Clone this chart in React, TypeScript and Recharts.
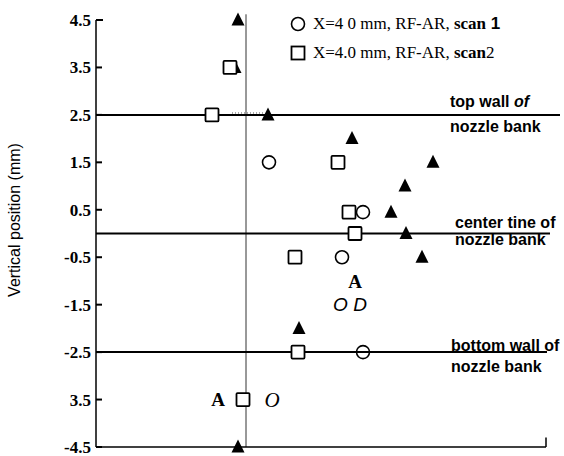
import { ScatterChart, Scatter, XAxis, YAxis, ReferenceLine, Legend } from 'recharts'

// y ticks as printed (the scan dropped the minus on -3.5)
const yTicks = [4.5, 3.5, 2.5, 1.5, 0.5, -0.5, -1.5, -2.5, -3.5, -4.5]
const yTickLabels = ['4.5', '3.5', '2.5', '1.5', '0.5', '-0.5', '-1.5', '-2.5', '3.5', '-4.5']

const legendNames = ['X=4 0 mm, RF-AR, scan 1', 'X=4.0 mm, RF-AR, scan2']

// open circles, scan 1
const scan1 = [
  { x: 0.23, y: 1.5 },
  { x: 1.17, y: 0.45 },
  { x: 0.96, y: -0.5 },
  { x: 1.17, y: -2.5 },
]

// open squares, scan 2
const scan2 = [
  { x: -0.16, y: 3.5 },
  { x: -0.34, y: 2.5 },
  { x: 0.92, y: 1.5 },
  { x: 1.03, y: 0.45 },
  { x: 1.09, y: 0 },
  { x: 0.49, y: -0.5 },
  { x: 0.52, y: -2.5 },
  { x: -0.03, y: -3.5 },
]

// filled triangles (no legend entry)
const scan3 = [
  { x: -0.08, y: 4.5 },
  { x: -0.11, y: 3.5 },
  { x: 0.22, y: 2.5 },
  { x: 1.06, y: 2.0 },
  { x: 1.87, y: 1.5 },
  { x: 1.59, y: 1.0 },
  { x: 1.45, y: 0.45 },
  { x: 1.6, y: 0 },
  { x: 1.76, y: -0.5 },
  { x: 0.53, y: -2.0 },
  { x: -0.08, y: -4.5 },
]

// symbols that came through the scan as letters
const boldLetters = [
  { x: 1.09, y: -1.0, text: 'A' },
  { x: -0.28, y: -3.5, text: 'A' },
]
const italicSansLetters = [{ x: 1.04, y: -1.5, text: 'O D' }]
const italicSerifLetters = [{ x: 0.26, y: -3.5, text: 'O' }]

const wallLines = [2.5, 0, -2.5]
const wallEnds = [3.14, 3.04, 3.01]
const wallLabels = [
  ['top wall ', 'of', 'nozzle bank'],
  ['center tine ', 'of', 'nozzle bank'],
  ['bottom wall ', 'of', 'nozzle bank'],
]

const SERIF = '"Liberation Serif", "Times New Roman", serif'
const SANS = '"Liberation Sans", Arial, sans-serif'
// [x, first line dy, second line dy]
const labelLayout = [[450, -8, 17], [455, -6, 11], [451, -1, 20]]

const Triangle = (p: any) => (
  <path d={`M${p.cx},${p.cy - 7.5} L${p.cx + 6.5},${p.cy + 5.5} L${p.cx - 6.5},${p.cy + 5.5} Z`} fill="#000" />
)
const Circle = (p: any) => <circle cx={p.cx} cy={p.cy} r={6.5} fill="none" stroke="#000" strokeWidth={1.6} />
const Square = (p: any) => (
  <rect x={p.cx - 6.5} y={p.cy - 6.5} width={13} height={13} rx={1} fill="#fff" stroke="#000" strokeWidth={1.8} />
)
const letterShape = (family: string, size: number, weight: string, fontStyle: string) => (p: any) => (
  <text x={p.cx} y={p.cy} dy={size * 0.35} textAnchor="middle" fontFamily={family} fontSize={size}
    fontWeight={weight} fontStyle={fontStyle} fill="#000">
    {p.payload.text}
  </text>
)

const YTick = (props: any) => {
  const { y, payload } = props
  const i = yTicks.indexOf(payload.value)
  return (
    <g>
      <line x1={96} x2={i === 0 ? 103 : 102} y1={y} y2={y} stroke="#000" strokeWidth={2} />
      <text x={91} y={y} dy={6} textAnchor="end" fontFamily={SERIF} fontWeight="bold" fontSize={17} fill="#000">
        {yTickLabels[i]}
      </text>
    </g>
  )
}

const wallLabel = (i: number) => (props: any) => {
  const vb = props.viewBox || {}
  const y = vb.y ?? 0
  const [main, of, second] = wallLabels[i]
  const [lx, d1, d2] = labelLayout[i]
  return (
    <g fontFamily={SANS} fontWeight="bold" fontSize={16} fill="#000">
      <text x={lx} y={y + d1}>
        {main}
        <tspan fontStyle={i === 0 ? 'italic' : 'normal'}>{of}</tspan>
      </text>
      <text x={lx} y={y + d2}>{second}</text>
    </g>
  )
}

const renderLegend = () => (
  <div style={{ fontFamily: SERIF, fontSize: 17, color: '#000', lineHeight: 1 }}>
    {legendNames.map((name, i) => {
      const k = name.indexOf('scan')
      const num = name.slice(k + 4)
      return (
        <div key={name} style={{ display: 'flex', alignItems: 'center', height: 29 }}>
          <svg width={16} height={16}>
            {i === 0
              ? <circle cx={8} cy={8} r={6.5} fill="none" stroke="#000" strokeWidth={1.6} />
              : <rect x={1.5} y={1.5} width={13} height={13} fill="none" stroke="#000" strokeWidth={1.8} />}
          </svg>
          <span style={{ marginLeft: 7, whiteSpace: 'pre' }}>
            {name.slice(0, k)}
            <b>scan</b>
            <span style={i === 0 ? { fontFamily: SANS, fontWeight: 'bold' } : {}}>{num}</span>
          </span>
        </div>
      )
    })}
  </div>
)

export default function App() {
  return (
    <div style={{ position: 'absolute', left: 0, top: 0, width: 564, height: 456, background: '#fff' }}>
      <ScatterChart width={564} height={456} margin={{ top: 20, right: 18, bottom: 8, left: 0 }}>
        <XAxis type="number" dataKey="x" domain={[-1.5, 3]} tick={false} tickLine={false} height={1}
          axisLine={{ stroke: '#000', strokeWidth: 1.5 }} />
        <YAxis type="number" dataKey="y" domain={[-4.5, 4.5]} ticks={yTicks} interval={0} width={96}
          tick={<YTick />} tickLine={false} axisLine={{ stroke: '#000', strokeWidth: 1.5 }}
          label={() => (
            <text transform="translate(20,220) rotate(-90)" textAnchor="middle" fontFamily={SANS} fontSize={16} fill="#000">
              Vertical position (mm)
            </text>
          )} />
        <Legend layout="vertical" align="center" verticalAlign="middle" content={renderLegend}
          wrapperStyle={{ position: 'absolute', left: 290, top: 9, width: 274 }} />

        <ReferenceLine segment={[{ x: 0, y: 4.62 }, { x: 0, y: -4.5 }]} stroke="#333" strokeWidth={1} ifOverflow="visible" />
        <ReferenceLine segment={[{ x: -0.14, y: 2.54 }, { x: 0.19, y: 2.54 }]} stroke="#555" strokeWidth={1}
          strokeDasharray="1 2" />
        <ReferenceLine segment={[{ x: 3, y: -4.5 }, { x: 3, y: -4.3 }]} stroke="#000" strokeWidth={1.5} />

        <Scatter data={scan3} shape={Triangle} isAnimationActive={false} legendType="none" />
        <Scatter name={legendNames[0]} data={scan1} shape={Circle} isAnimationActive={false} />
        <Scatter name={legendNames[1]} data={scan2} shape={Square} isAnimationActive={false} />
        <Scatter data={boldLetters} shape={letterShape(SERIF, 19, 'bold', 'normal')} isAnimationActive={false} legendType="none" />
        <Scatter data={italicSansLetters} shape={letterShape(SANS, 19, 'normal', 'italic')} isAnimationActive={false} legendType="none" />
        <Scatter data={italicSerifLetters} shape={letterShape(SERIF, 21, 'normal', 'italic')} isAnimationActive={false} legendType="none" />

        {wallLines.map((w, i) => (
          <ReferenceLine key={w} segment={[{ x: -1.5, y: w }, { x: wallEnds[i], y: w }]} stroke="#000"
            strokeWidth={2} ifOverflow="visible" label={wallLabel(i)} />
        ))}
      </ScatterChart>
    </div>
  )
}
